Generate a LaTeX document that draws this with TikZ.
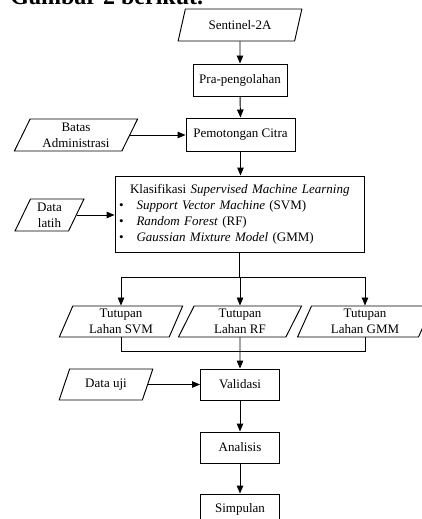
\documentclass[tikz,border=0pt]{standalone}
\usepackage{fontspec}
\setmainfont{Liberation Serif}
\usetikzlibrary{shapes.geometric,arrows.meta}
\begin{document}
\begin{tikzpicture}[x=1pt,y=-1pt,
  font=\fontsize{13}{16}\selectfont,
  line width=0.95pt,
  proc/.style={draw, rectangle, inner sep=2pt, align=center},
  io/.style={draw, trapezium, trapezium stretches=true, align=center, inner sep=1pt},
  arr/.style={-{Triangle[length=8pt,width=6.5pt]}}]
\useasboundingbox (0,0) rectangle (422,519);
\fill[white] (0,0) rectangle (422,519);
\clip (0,0) rectangle (422,519);

\node[anchor=base west, font=\fontsize{24}{28}\selectfont\bfseries, inner sep=0pt] (title) at (10,4.5) {Gambar 2 berikut.};

\node[io, trapezium left angle=69, trapezium right angle=111, minimum width=124pt, minimum height=32pt] (s2a) at (240,25) {Sentinel-2A};
\node[proc, minimum width=94pt, minimum height=32pt] (pra) at (240,80) {Pra-pengolahan};
\node[proc, minimum width=109pt, minimum height=33pt] (pot) at (240.5,134.5) {Pemotongan Citra};
\node[io, trapezium left angle=66, trapezium right angle=114, minimum width=124pt, minimum height=32pt] (batas) at (76,135) {Batas\\Administrasi};

\node[proc, minimum width=249pt, minimum height=76pt, text width=241pt, align=left, inner xsep=4pt] (klas) at (239.5,214)
  {\hspace*{11pt}Klasifikasi \textit{Supervised Machine Learning}\\
   \textbullet\hspace{13pt}\textit{Support Vector Machine} (SVM)\\
   \textbullet\hspace{13pt}\textit{Random Forest} (RF)\\
   \textbullet\hspace{13pt}\textit{Gaussian Mixture Model} (GMM)};
\node[io, trapezium left angle=68, trapezium right angle=112, minimum width=69pt, minimum height=32pt] (latih) at (49.5,215) {Data\\latih};

\node[io, trapezium left angle=71, trapezium right angle=109, minimum width=124pt, minimum height=31pt] (svm) at (121,321.5) {Tutupan\\Lahan SVM};
\node[io, trapezium left angle=71, trapezium right angle=109, minimum width=124pt, minimum height=31pt] (rf) at (240,321.5) {Tutupan\\Lahan RF};
\node[io, trapezium left angle=71, trapezium right angle=109, minimum width=136pt, minimum height=31pt] (gmm) at (365,321.5) {Tutupan\\Lahan GMM};

\node[proc, minimum width=79pt, minimum height=31pt] (valid) at (240,384.5) {Validasi};
\node[io, trapezium left angle=65, trapezium right angle=115, minimum width=94pt, minimum height=31pt] (uji) at (106,384.5) {Data uji};
\node[proc, minimum width=79pt, minimum height=31pt] (anal) at (240,447.5) {Analisis};
\node[proc, minimum width=79pt, minimum height=31pt] (simp) at (240,509.5) {Simpulan};

\draw[arr] (s2a.south) -- (pra.north);
\draw[arr] (pra.south) -- (pot.north);
\draw[arr] (batas.east) -- (batas.east -| pot.west);
\draw[arr] (pot.south) -- (pot.south |- klas.north);
\draw[arr] (latih.east) -- (latih.east -| klas.west);

\path (klas.south) ++(0,25) coordinate (j1);
\draw (klas.south) -- (j1);
\draw (svm.north |- j1) -- (gmm.north |- j1);
\draw[arr] (svm.north |- j1) -- (svm.north);
\draw[arr] (rf.north |- j1) -- (rf.north);
\draw[arr] (gmm.north |- j1) -- (gmm.north);

\path (rf.south) ++(0,14) coordinate (j2);
\draw (svm.south) -- (svm.south |- j2) -- (gmm.south |- j2) -- (gmm.south);
\draw[arr] (rf.south) -- (valid.north);
\draw[arr] (uji.east) -- (uji.east -| valid.west);
\draw[arr] (valid.south) -- (anal.north);
\draw[arr] (anal.south) -- (simp.north);
\end{tikzpicture}
\end{document}
